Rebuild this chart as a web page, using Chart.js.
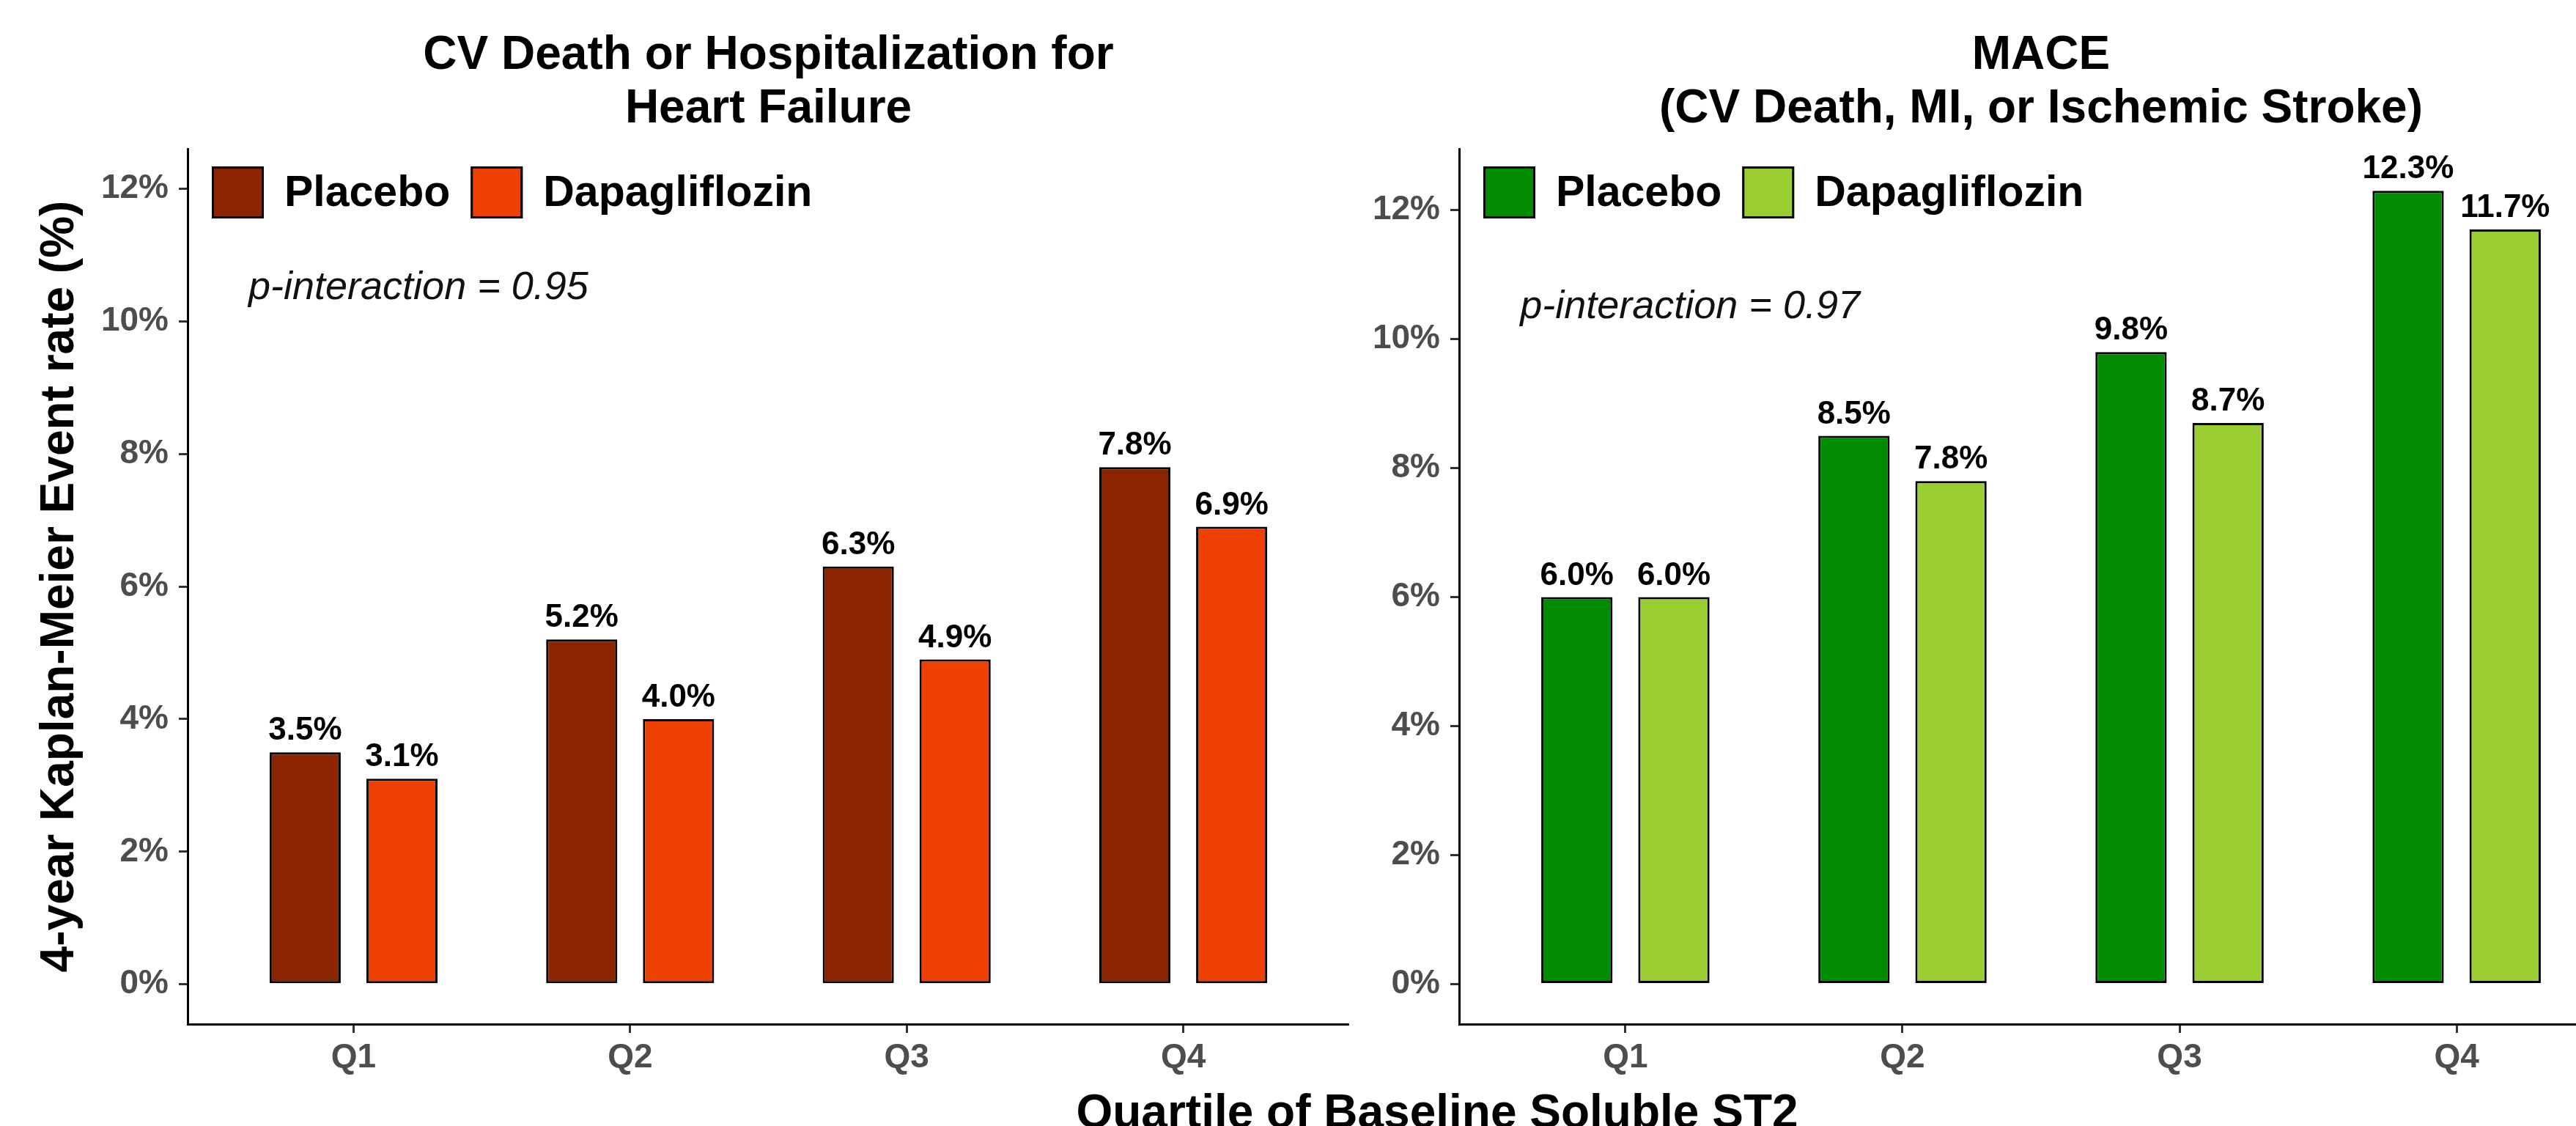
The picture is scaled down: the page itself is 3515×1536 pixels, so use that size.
<!DOCTYPE html>
<html lang="en">
<head>
<meta charset="utf-8">
<title>Event rates by quartile of baseline soluble ST2</title>
<script src="https://cdn.jsdelivr.net/npm/chart.js@4/dist/chart.umd.min.js"></script>
<style>
  html, body { margin: 0; padding: 0; background: #fff; }
  body { width: 3515px; height: 1536px; overflow: hidden; position: relative; font-family: "Liberation Sans", Arial, sans-serif; }
  canvas { position: absolute; top: 0; }
  #hfChart { left: 0; }
  #maceChart { left: 1850px; }
  .xtitle { position: absolute; top: 1484px; left: 1461px; width: 1000px; text-align: center; font-weight: bold; font-size: 64px; line-height: 64px; color: #000; white-space: nowrap; }
</style>
</head>
<body>
<canvas id="hfChart" width="1841" height="1500"></canvas>
<canvas id="maceChart" width="1729" height="1500"></canvas>
<div class="xtitle">Quartile of Baseline Soluble ST2</div>
<script>
// data
const quartiles = ['Q1', 'Q2', 'Q3', 'Q4'];
const yTicks = [0, 2, 4, 6, 8, 10, 12];
const seriesNames = ['Placebo', 'Dapagliflozin'];
const hfPlacebo = [3.5, 5.2, 6.3, 7.8];
const hfDapa = [3.1, 4.0, 4.9, 6.9];
const macePlacebo = [6.0, 8.5, 9.8, 12.3];
const maceDapa = [6.0, 7.8, 8.7, 11.7];

const FONT = '"Liberation Sans", Arial, sans-serif';
Chart.defaults.font.family = FONT;

// legend, value labels and p-interaction text
const extras = {
  id: 'extras',
  afterDraw(chart, args, opts) {
    const ctx = chart.ctx;
    const area = chart.chartArea;
    ctx.save();

    // value labels over bars
    ctx.font = 'bold 44px ' + FONT;
    ctx.fillStyle = '#000';
    ctx.textAlign = 'center';
    ctx.textBaseline = 'alphabetic';
    chart.data.datasets.forEach((ds, di) => {
      chart.getDatasetMeta(di).data.forEach((bar, i) => {
        ctx.fillText(ds.data[i].y.toFixed(1) + '%', bar.x, bar.y - 17);
      });
    });

    // legend inside the panel
    let x = area.left + 33;
    const top = area.top + 24, size = 71;
    ctx.font = 'bold 59px ' + FONT;
    ctx.textAlign = 'left';
    ctx.textBaseline = 'middle';
    chart.data.datasets.forEach(ds => {
      ctx.fillStyle = ds.backgroundColor;
      ctx.fillRect(x, top, size, size);
      ctx.lineWidth = 3;
      ctx.strokeStyle = '#000';
      ctx.strokeRect(x + 1.5, top + 1.5, size - 3, size - 3);
      ctx.fillStyle = '#000';
      ctx.fillText(ds.label, x + size + 28, top + size / 2 + 2);
      x += size + 28 + ctx.measureText(ds.label).width + 28;
    });

    // p-interaction
    ctx.font = 'italic 54px ' + FONT;
    ctx.fillStyle = '#111';
    ctx.fillText(opts.pText, chart.scales.x.getPixelForValue(0.62), chart.scales.y.getPixelForValue(10.5));
    ctx.restore();
  }
};

function makeChart(id, title, placebo, dapa, colors, yMin, yMax, yWidth, yTitle, pText) {
  const toPoints = vals => vals.map((v, i) => ({ x: i + 1, y: v }));
  return new Chart(document.getElementById(id), {
    type: 'bar',
    data: {
      datasets: [
        { label: seriesNames[0], data: toPoints(placebo), backgroundColor: colors[0] },
        { label: seriesNames[1], data: toPoints(dapa), backgroundColor: colors[1] }
      ]
    },
    options: {
      responsive: false,
      animation: false,
      layout: { autoPadding: false, padding: 0 },
      datasets: {
        bar: {
          borderColor: '#000', borderWidth: 3, borderSkipped: false,
          categoryPercentage: 0.7, barPercentage: 0.735
        }
      },
      plugins: {
        legend: { display: false },
        tooltip: { enabled: false },
        title: {
          display: true, text: title, fullSize: false, color: '#000',
          font: { size: 64, weight: 'bold', lineHeight: 73 / 64 },
          padding: { top: 40, bottom: 17 }
        },
        extras: { pText: pText }
      },
      scales: {
        x: {
          type: 'linear', min: 0.4, max: 4.6, offset: false,
          afterBuildTicks: s => { s.ticks = quartiles.map((q, i) => ({ value: i + 1 })); },
          afterFit: s => { s.height = 103; },
          ticks: {
            callback: (v, i) => quartiles[i],
            color: '#4d4d4d', padding: 7, autoSkip: false, maxRotation: 0,
            font: { size: 46, weight: 'bold', lineHeight: 1.2 }
          },
          grid: { display: true, offset: false, drawOnChartArea: false, drawTicks: true, tickLength: 12, color: '#333', lineWidth: 3 },
          border: { display: true, color: '#000', width: 3 }
        },
        y: {
          min: yMin, max: yMax,
          afterBuildTicks: s => { s.ticks = yTicks.map(v => ({ value: v })); },
          afterFit: s => { s.width = yWidth; },
          ticks: {
            callback: v => v + '%',
            color: '#4d4d4d', padding: 14,
            font: { size: 46, weight: 'bold' }
          },
          grid: { display: true, drawOnChartArea: false, drawTicks: true, tickLength: 12, color: '#333', lineWidth: 3 },
          border: { display: true, color: '#000', width: 3 },
          title: {
            display: !!yTitle, text: yTitle || '', color: '#000',
            font: { size: 64, weight: 'bold', lineHeight: 1 },
            padding: { top: 50, bottom: 0 }
          }
        }
      }
    },
    plugins: [extras]
  });
}

makeChart('hfChart', ['CV Death or Hospitalization for', 'Heart Failure'],
  hfPlacebo, hfDapa, ['#8B2500', '#EE4000'], -0.6, 12.6, 256,
  '4-year Kaplan-Meier Event rate (%)', 'p-interaction = 0.95');

makeChart('maceChart', ['MACE', '(CV Death, MI, or Ischemic Stroke)'],
  macePlacebo, maceDapa, ['#008B00', '#9ACD32'], -0.62, 12.95, 141,
  null, 'p-interaction = 0.97');
</script>
</body>
</html>
